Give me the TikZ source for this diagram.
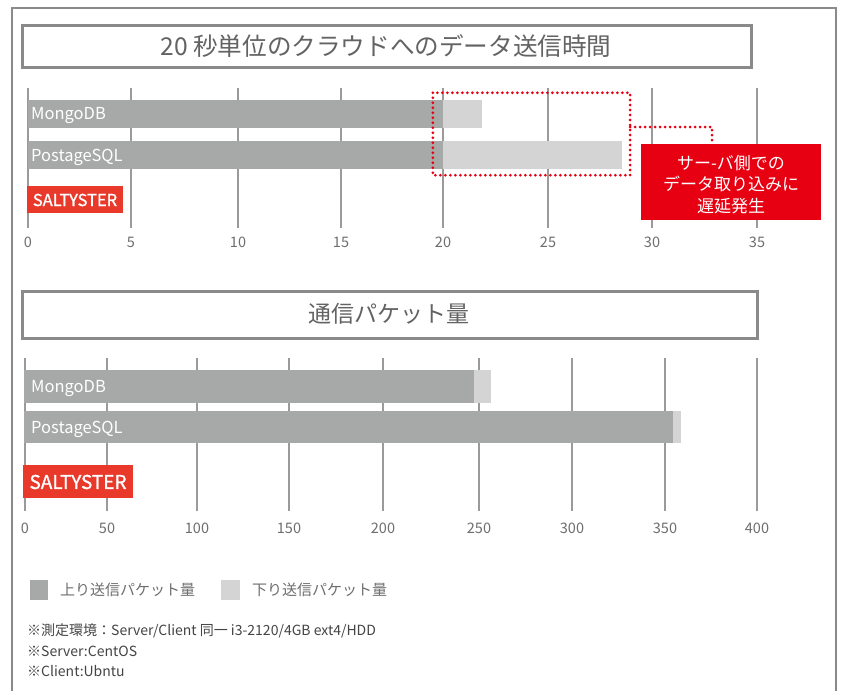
\documentclass[tikz,border=0pt]{standalone}
\usepackage{fontspec}
\setmainfont{Noto Sans CJK JP}
\newfontfamily\lab{Noto Sans CJK JP}
\newfontfamily\labb[FakeBold=1.2]{Noto Sans CJK JP}
\definecolor{darkbar}{HTML}{A6A9A8}
\definecolor{lightbar}{HTML}{D4D4D4}
\definecolor{gridc}{HTML}{9A9A9A}
\definecolor{titlec}{HTML}{8A8A8A}
\definecolor{ticktext}{HTML}{6E6E6E}
\definecolor{salt}{HTML}{E8392A}
\definecolor{redbox}{HTML}{E60012}
\definecolor{notec}{HTML}{444444}
\tikzset{
  gridline/.style={draw=gridc, line width=2.7pt},
  ticklab/.style={font=\lab\fontsize{14.5}{16}\selectfont, text=ticktext, inner sep=0pt},
  titlebox/.style={draw=titlec, line width=3pt, fill=white},
  titletext/.style={text=ticktext!90!black, inner sep=0pt},
  barlab/.style={font=\lab\fontsize{16.5}{18}\selectfont, text=white, anchor=west, inner sep=0pt},
  salttext/.style={text=white, inner sep=0pt},
  dotline/.style={draw=redbox, line width=3pt, line cap=round, dash pattern=on 0pt off 5pt},
  legtext/.style={font=\fontsize{15}{17}\selectfont, text=ticktext, anchor=west, inner sep=0pt},
  notetext/.style={font=\fontsize{14}{15}\selectfont, text=notec, anchor=west, inner sep=0pt},
}
\begin{document}
\begin{tikzpicture}[x=1pt,y=-1pt]
\useasboundingbox (0,0) rectangle (843,691);
\fill[white] (0,0) rectangle (843,691);
% outer frame
\draw[draw=titlec, line width=1.6pt] (12,691) -- (12,8) -- (836,8) -- (836,691);

% ===== chart 1 =====
\draw[titlebox] (22,25) rectangle (751,67);
\node[titletext, font=\fontsize{24.6}{27}\selectfont] (t1) at (386,46) {20 秒単位のクラウドへのデータ送信時間};
\foreach \v/\x in {0/28,5/131,10/238,15/341,20/443,25/548,30/652,35/757}{
  \draw[gridline] (\x,88) -- (\x,228);
  \node[ticklab] at (\x,242) {\v};
}
\fill[darkbar] (28,100) rectangle (443,128);
\fill[lightbar] (443,100) rectangle (482,128);
\fill[darkbar] (28,141) rectangle (443,169);
\fill[lightbar] (443,141) rectangle (622,169);
\node[barlab] (m1) at (31,116) {MongoDB};
\node[barlab] (p1) at (31,157) {PostageSQL};
\fill[salt] (27,186) rectangle (123,213);
\node[salttext, font=\labb\fontsize{16.5}{18}\selectfont] (s1) at (75,200) {SALTYSTER};
% dotted highlight
\node[inner sep=0pt, minimum width=197pt, minimum height=82pt] (hl) at (531.5,134) {};
\draw[dotline] (hl.north west) rectangle (hl.south east);
% red box
\node[fill=redbox, minimum width=180pt, minimum height=76pt, inner sep=0pt] (rb) at (731,182) {};
\node[font=\fontsize{17}{21.5}\selectfont, text=white, align=center, inner sep=0pt] (rbt) at (731,184.5)
  {サー-バ側での\\データ取り込みに\\遅延発生};
\coordinate (c1) at (712,127);
\draw[dotline] (hl.east |- c1) -- (c1) -- (c1 |- rb.north);

% ===== chart 2 =====
\draw[titlebox] (22,291) rectangle (757,338);
\node[titletext, font=\fontsize{23}{26}\selectfont] (t2) at (389,314) {通信パケット量};
\foreach \v/\x in {0/25,50/107,100/197,150/289,200/383,250/479,300/572,350/665,400/757}{
  \draw[gridline] (\x,358) -- (\x,511);
  \node[ticklab] at (\x,528) {\v};
}
\fill[darkbar] (24,370) rectangle (474,403);
\fill[lightbar] (474,370) rectangle (491,403);
\fill[darkbar] (24,411) rectangle (673,443);
\fill[lightbar] (673,411) rectangle (681,443);
\node[barlab] (m2) at (31,388.5) {MongoDB};
\node[barlab] (p2) at (31,429.5) {PostageSQL};
\fill[salt] (23,465) rectangle (133,498);
\node[salttext, font=\labb\fontsize{19}{20}\selectfont] (s2) at (78,482) {SALTYSTER};

% ===== legend =====
\fill[darkbar] (30,580) rectangle (48,600);
\node[legtext] (l1) at (60,590) {上り送信パケット量};
\fill[lightbar] (221,580) rectangle (240,600);
\node[legtext] (l2) at (252,590) {下り送信パケット量};

% ===== notes =====
\node[notetext] (n1) at (27,631) {※測定環境：Server/Client 同一 i3-2120/4GB ext4/HDD};
\node[notetext] (n2) at (27,651) {※Server:CentOS};
\node[notetext] (n3) at (27,671) {※Client:Ubntu};
\end{tikzpicture}
\end{document}
